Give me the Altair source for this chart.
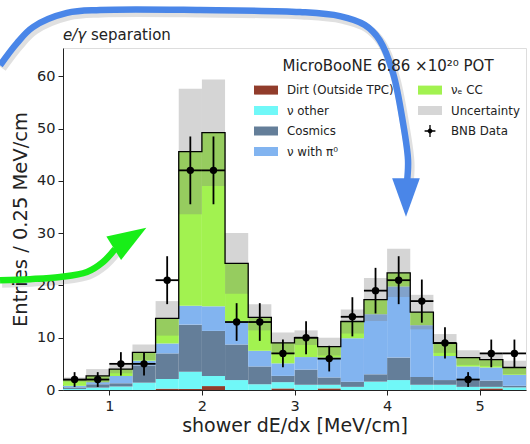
import altair as alt
import pandas as pd
import numpy as np

# ---------------- data ----------------
bin_lo = [0.5, 0.75, 1.0, 1.25, 1.5, 1.75, 2.0, 2.25, 2.5, 2.75,
          3.0, 3.25, 3.5, 3.75, 4.0, 4.25, 4.5, 4.75, 5.0, 5.25]
bin_hi = [0.75, 1.0, 1.25, 1.5, 1.75, 2.0, 2.25, 2.5, 2.75, 3.0,
          3.25, 3.5, 3.75, 4.0, 4.25, 4.5, 4.75, 5.0, 5.25, 5.5]

dirt     = [0, 0, 0, 0, 0.25, 0.2, 0.75, 0, 0, 0.3, 0, 0.3, 0, 0, 0, 0, 0, 0, 0.3, 0]
nu_other = [0.2, 0.45, 0.65, 1.4, 1.85, 3.3, 1.95, 1.9, 1.1, 1.2,
            1.0, 0.7, 0.6, 1.6, 1.9, 1.0, 1.0, 0.6, 0.3, 0.5]
cosmics  = [0.3, 0.65, 0.65, 3.3, 4.9, 9.0, 8.6, 6.8, 3.4, 1.2,
            2.9, 1.4, 1.0, 1.4, 4.3, 1.5, 0.9, 1.3, 1.2, 0.3]
nu_pi0   = [0.3, 0.4, 1.4, 0.9, 1.9, 3.6, 4.7, 4.4, 3.0, 2.4,
            2.4, 3.8, 8.3, 11.5, 13.6, 9.9, 4.6, 2.6, 2.5, 2.1]
nue_cc   = [1.2, 1.2, 1.3, 1.6, 4.8, 29.5, 33.2, 11.1, 6.4, 3.9,
            3.7, 2.1, 3.2, 2.8, 2.6, 2.5, 2.4, 1.7, 1.5, 1.4]
mc_err   = [0.4, 1.3, 0.8, 1.5, 3.3, 12.0, 10.2, 5.8, 2.5, 2.0,
            1.4, 1.7, 2.3, 4.1, 4.6, 3.3, 1.8, 1.4, 1.2, 1.3]
bnb_data = [2, 2, 5, 5, 21, 42, 42, 13, 13, 7, 10, 6, 14, 19, 21, 17, 9, 2, 7, 7]

# legend entries (Vega fills legend columns first)
names  = ["Dirt (Outside TPC)", "ν other", "Cosmics", "ν with π⁰",
          "νₑ CC", "Uncertainty", "BNB Data"]
colors = ["#913c2b", "#70f8f8", "#647e99", "#82b4f0",
          "#a2f250", "#d6d6d6", "#000000"]
color_of = dict(zip(names, colors))

# decorative annotation arrows (path control points, axis units)
blue_x = [-0.18, 0.003, 0.176, 0.543, 0.90, 1.98, 3.06, 3.49, 3.76, 3.92, 4.064, 4.172, 4.226, 4.215]
blue_y = [62.1, 66.35, 69.4, 72.1, 72.66, 72.66, 72.28, 71.5, 69.8, 66.9, 60.6, 51.05, 43.98, 39.8]
green_x = [-0.18, 0.144, 0.468, 0.759, 0.932, 1.062]
green_y = [21.0, 21.2, 21.6, 22.56, 24.47, 26.96]
head_x = [4.204, 1.224]
head_y = [36.8, 29.06]
head_angle = [180, 58]
head_color = ["#4a86e8", "#18ee18"]

# ---------------- tables ----------------
comps = [("Dirt (Outside TPC)", dirt), ("ν other", nu_other), ("Cosmics", cosmics),
         ("ν with π⁰", nu_pi0), ("νₑ CC", nue_cc)]
rows = []
base = np.zeros(len(bin_lo))
for nm, vals in comps:
    v = np.array(vals, dtype=float)
    for i in range(len(bin_lo)):
        rows.append({"lo": bin_lo[i], "hi": bin_hi[i], "y0": base[i], "y1": base[i] + v[i],
                     "comp": nm, "col": color_of[nm]})
    base = base + v
stack_df = pd.DataFrame(rows)
total = base

unc_df = pd.DataFrame({"lo": bin_lo, "hi": bin_hi,
                       "ylo": total - np.array(mc_err), "yhi": total + np.array(mc_err)})
step_df = pd.DataFrame({"x": bin_lo + [bin_hi[-1]], "y": list(total) + [total[-1]]})

cnt = np.array(bnb_data, dtype=float)
err = np.sqrt(cnt)
data_df = pd.DataFrame({"lo": bin_lo, "hi": bin_hi,
                        "xc": (np.array(bin_lo) + np.array(bin_hi)) / 2,
                        "n": cnt, "elo": cnt - err, "ehi": cnt + err})

leg_df = pd.DataFrame({"series": names, "x": [-5] * len(names), "y": [1] * len(names)})
blue_df = pd.DataFrame({"x": blue_x, "y": blue_y, "i": list(range(len(blue_x)))})
green_df = pd.DataFrame({"x": green_x, "y": green_y, "i": list(range(len(green_x)))})
head_df = pd.DataFrame({"x": head_x, "y": head_y, "a": head_angle, "c": head_color})
title_df = pd.DataFrame({"t": ["e/γ", "separation"]})

# ---------------- scales / encodings ----------------
FONT = "DejaVu Sans"
xs = alt.Scale(domain=[0.5, 5.5], nice=False, zero=False)
ys = alt.Scale(domain=[0, 65.4], nice=False)
color_scale = alt.Scale(domain=names, range=colors)
RECT = "M-1.2,-0.45H1.2V0.45H-1.2Z"
DATA_SYM = ("M-0.54,-0.065H0.54V0.065H-0.54Z M-0.065,-0.6H0.065V0.6H-0.065Z "
            "M0,-0.32L0.32,0L0,0.32L-0.32,0Z")
shape_scale = alt.Scale(domain=names, range=[RECT, RECT, RECT, RECT, RECT, RECT, DATA_SYM])

x_axis = alt.Axis(title="shower dE/dx [MeV/cm]", values=[1, 2, 3, 4, 5], format="d",
                  grid=False, tickSize=5, labelFontSize=14.5, titleFontSize=19,
                  titleFontWeight="normal", labelPadding=4, titlePadding=4,
                  domainColor="#222", tickColor="#222", labelColor="#222", titleColor="#222",
                  labelFont=FONT, titleFont=FONT)
y_axis = alt.Axis(title="Entries / 0.25 MeV/cm", values=[0, 10, 20, 30, 40, 50, 60],
                  grid=False, tickSize=5, labelFontSize=14.5, titleFontSize=19.5,
                  titleFontWeight="normal", labelPadding=3, titlePadding=6,
                  domainColor="#222", tickColor="#222", labelColor="#222", titleColor="#222",
                  labelFont=FONT, titleFont=FONT)

X = lambda f: alt.X(f, scale=xs, axis=x_axis)
Y = lambda f: alt.Y(f, scale=ys, axis=y_axis)

stack = alt.Chart(stack_df).mark_rect().encode(
    x=X("lo:Q"), x2="hi:Q", y=Y("y0:Q"), y2="y1:Q",
    color=alt.Color("col:N", scale=None))

unc = alt.Chart(unc_df).mark_rect(color="#7f7f7f", opacity=0.33).encode(
    x=X("lo:Q"), x2="hi:Q", y=Y("ylo:Q"), y2="yhi:Q")

outline = alt.Chart(step_df).mark_line(interpolate="step-after", color="black",
                                       strokeWidth=1.3).encode(x=X("x:Q"), y=Y("y:Q"))

vbar = alt.Chart(data_df).mark_rule(color="black", strokeWidth=1.8).encode(
    x=X("xc:Q"), y=Y("elo:Q"), y2="ehi:Q")
hbar = alt.Chart(data_df).mark_rule(color="black", strokeWidth=1.8).encode(
    x=X("lo:Q"), x2="hi:Q", y=Y("n:Q"))
pts = alt.Chart(data_df).mark_circle(size=55, color="black", opacity=1).encode(
    x=X("xc:Q"), y=Y("n:Q"))

leg = alt.Legend(title="MicroBooNE 6.86 ×10²⁰ POT", orient="none", legendX=193, legendY=11,
                 columns=2, symbolSize=400, labelFontSize=11.8, titleFontSize=15,
                 titleFontWeight="normal", titleAnchor="middle", columnPadding=24,
                 rowPadding=3.5, labelOffset=11, padding=0, titlePadding=6,
                 symbolStrokeWidth=0, labelFont=FONT, titleFont=FONT,
                 labelColor="#222", titleColor="#222", labelLimit=300, titleLimit=400)
legend_layer = alt.Chart(leg_df).mark_point(filled=True, opacity=1, clip=True).encode(
    x=X("x:Q"), y=Y("y:Q"),
    color=alt.Color("series:N", scale=color_scale, legend=leg),
    shape=alt.Shape("series:N", scale=shape_scale, legend=leg))

blue_shadow = alt.Chart(blue_df).mark_line(color="black", opacity=0.12, strokeWidth=9,
                                           interpolate="catmull-rom", clip=False,
                                           xOffset=2, yOffset=3).encode(
    x=X("x:Q"), y=Y("y:Q"), order="i:Q")
blue = alt.Chart(blue_df).mark_line(color="#4a86e8", strokeWidth=6.5,
                                    interpolate="catmull-rom", clip=False).encode(
    x=X("x:Q"), y=Y("y:Q"), order="i:Q")
green_shadow = alt.Chart(green_df).mark_line(color="black", opacity=0.12, strokeWidth=9,
                                             interpolate="catmull-rom", clip=False,
                                             xOffset=2, yOffset=3).encode(
    x=X("x:Q"), y=Y("y:Q"), order="i:Q")
green = alt.Chart(green_df).mark_line(color="#18ee18", strokeWidth=6.5,
                                      interpolate="catmull-rom", clip=False).encode(
    x=X("x:Q"), y=Y("y:Q"), order="i:Q")
HEAD = "M0,-1L0.72,1L-0.72,1Z"
heads = alt.Chart(head_df).mark_point(shape=HEAD, size=1480, filled=True, opacity=1,
                                      clip=False).encode(
    x=X("x:Q"), y=Y("y:Q"), angle=alt.Angle("a:Q", scale=None),
    color=alt.Color("c:N", scale=None))

# panel title "e/γ separation" (italic e/γ as in mathtext)
t1 = alt.Chart(title_df).transform_filter(alt.datum.t == "e/γ").mark_text(
    align="left", baseline="alphabetic", fontSize=15, font=FONT, fontStyle="italic",
    color="#222", clip=False).encode(text="t:N", x=alt.value(0), y=alt.value(-8))
t2 = alt.Chart(title_df).transform_filter(alt.datum.t == "separation").mark_text(
    align="left", baseline="alphabetic", fontSize=15, font=FONT,
    color="#222", clip=False).encode(text="t:N", x=alt.value(28), y=alt.value(-8))

chart = alt.layer(stack, unc, outline, vbar, hbar, pts, legend_layer,
                  blue_shadow, green_shadow, blue, green, heads, t1, t2).properties(
    width=463, height=342,
    autosize=alt.AutoSizeParams(type="none"),
    padding={"left": 63, "top": 48, "right": 4, "bottom": 54},
).configure_view(stroke="#222", strokeWidth=1.1).configure(background="white")

chart.save("out.html", embed_options={"renderer": "svg", "actions": False})
